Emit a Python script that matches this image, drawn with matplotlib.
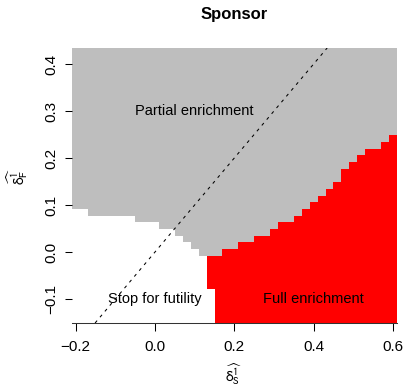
import numpy as np
import matplotlib.pyplot as plt
from matplotlib.colors import ListedColormap

plt.rcParams['font.family'] = ['Liberation Sans', 'DejaVu Sans']
plt.rcParams['mathtext.fontset'] = 'custom'
plt.rcParams['mathtext.rm'] = 'Liberation Sans'
plt.rcParams['mathtext.it'] = 'Liberation Sans:italic'

# grid of estimated effects (cell centres)
delta_s = np.round(np.arange(-0.20, 0.601, 0.02), 2)
delta_f = np.linspace(-0.144, 0.427, 41)

# per column of delta_s: first row index of each decision region
partial_from = [17, 17, 16, 16, 16, 16, 16, 16, 15, 15, 15, 14, 14, 13, 12, 11,
                10, 10, 10, 11, 11, 12, 12, 13, 13, 14, 15, 15, 16, 17, 18, 19,
                20, 21, 23, 24, 25, 26, 26, 27, 28]
full_from = [None] * 17 + [5] + [0] * 23

region_labels = ["Stop for futility", "Partial enrichment", "Full enrichment"]
region_colors = ["white", "#BEBEBE", "#FF0000"]

# decision matrix: 0 = futility, 1 = partial, 2 = full
decision = np.zeros((len(delta_f), len(delta_s)), dtype=int)
for j in range(len(delta_s)):
    for i in range(len(delta_f)):
        if i >= partial_from[j]:
            decision[i, j] = 1
        elif full_from[j] is not None and i >= full_from[j]:
            decision[i, j] = 2

def edges(c):
    h = c[1] - c[0]
    return np.append(c - h / 2, c[-1] + h / 2)

fig = plt.figure(figsize=(4.03, 3.88), dpi=100)
ax = fig.add_axes([0.178, 0.1675, 0.807, 0.709])

ax.pcolormesh(edges(delta_s), edges(delta_f), decision,
              cmap=ListedColormap(region_colors), vmin=-0.5, vmax=2.5,
              shading='flat', linewidth=0, antialiased=False)
ax.axline((0, 0), slope=1, color='black', lw=0.75, linestyle=(0, (3, 4.3)))

ax.text(0.1, 0.3, region_labels[1], ha='center', va='center', fontsize=10.5)
ax.text(0.0, -0.1, region_labels[0], ha='center', va='center', fontsize=10.5)
ax.text(0.4, -0.1, region_labels[2], ha='center', va='center', fontsize=10.5)

ax.set_xlim(edges(delta_s)[0], edges(delta_s)[-1])
ax.set_ylim(edges(delta_f)[0], edges(delta_f)[-1])
ax.set_xticks([-0.2, 0.0, 0.2, 0.4, 0.6])
ax.set_yticks([-0.1, 0.0, 0.1, 0.2, 0.3, 0.4])
ax.set_xticklabels(["\u22120.2", "0.0", "0.2", "0.4", "0.6"])
ax.set_yticklabels(["\u22120.1", "0.0", "0.1", "0.2", "0.3", "0.4"],
                   rotation=90, va='center')
ax.tick_params(axis='x', length=5.4, width=0.75, pad=7, labelsize=11)
ax.tick_params(axis='y', length=5.4, width=0.75, pad=4, labelsize=11)

for side in ['top', 'right', 'left']:
    ax.spines[side].set_visible(False)
ax.spines['bottom'].set_linewidth(0.75)
ax.spines['bottom'].set_color('#333333')

fig.text(234 / 403, 1 - 15 / 388, "Sponsor", ha='center', va='center',
         fontsize=12, fontweight='bold')
fig.text(234 / 403, 1 - 374 / 388, r'$\widehat{\mathrm{\delta}_{\mathrm{S}}^{1}}$',
         ha='center', va='center', fontsize=11, math_fontfamily='stixsans')
fig.text(17 / 403, 1 - 176 / 388, r'$\widehat{\mathrm{\delta}_{\mathrm{F}}^{1}}$',
         ha='center', va='center', fontsize=11, rotation=90,
         math_fontfamily='stixsans')

fig.savefig("out.png", dpi=100)
